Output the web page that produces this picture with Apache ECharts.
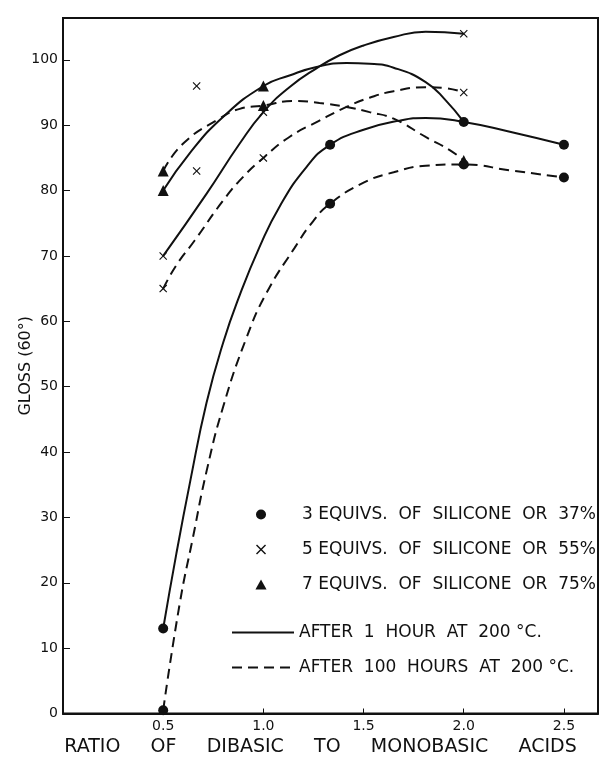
<!DOCTYPE html>
<html>
<head>
<meta charset="utf-8">
<script src="https://cdn.jsdelivr.net/npm/echarts@6/dist/echarts.min.js"></script>
<style>
  html, body { margin: 0; padding: 0; background: #fff; }
  #chart { width: 600px; height: 757px; }
</style>
</head>
<body>
<div id="chart"></div>
<script>
// measured points [ratio, gloss]
var pts3eq1h   = [[0.5, 13], [1.333, 87], [2.0, 90.5], [2.5, 87]];
var pts3eq100h = [[0.5, 0.5], [1.333, 78], [2.0, 84], [2.5, 82]];
var pts5eq1h   = [[0.5, 70], [1.0, 92], [2.0, 104]];
var pts5eq100h = [[0.5, 65], [1.0, 85], [2.0, 95]];
var pts5eqOther = [[0.667, 96], [0.667, 83]];
var pts7eq1h   = [[0.5, 80], [1.0, 96]];
var pts7eq100h = [[0.5, 83], [1.0, 93], [2.0, 84.6]];

// drawn curves
var curve3eq1h = [[0.5, 13], [0.566, 24.5], [0.636, 35.7], [0.716, 47.5], [0.8, 56.8], [0.882, 64], [0.98, 71.3], [1.08, 77.5], [1.215, 83.6], [1.333, 87], [1.5, 89.3], [1.68, 90.7], [1.81, 91.1], [2.0, 90.5], [2.23, 89.0], [2.5, 87]];
var curve3eq100h = [[0.5, 0.5], [0.583, 16.9], [0.649, 27], [0.716, 37], [0.8, 47], [0.916, 57.5], [1.015, 64.3], [1.155, 71.2], [1.248, 75.3], [1.333, 78], [1.5, 81.2], [1.65, 82.8], [1.81, 83.8], [2.0, 84], [2.23, 83.1], [2.5, 82]];
var curve5eq1h = [[0.5, 70], [0.716, 79.5], [0.882, 87.2], [1.0, 92], [1.13, 95.8], [1.265, 98.7], [1.38, 100.7], [1.5, 102.2], [1.65, 103.5], [1.81, 104.3], [2.0, 104]];
var curve5eq100h = [[0.5, 65], [0.566, 68.6], [0.658, 72.4], [0.8, 78.5], [0.899, 82.1], [1.0, 85], [1.13, 88.2], [1.28, 90.7], [1.415, 92.8], [1.53, 94.2], [1.65, 95.2], [1.81, 95.8], [1.9, 95.7], [2.0, 95]];
var curve7eq1h = [[0.5, 80], [0.632, 85.7], [0.8, 91.3], [1.0, 96], [1.13, 97.6], [1.265, 98.9], [1.415, 99.5], [1.53, 99.4], [1.65, 98.8], [1.81, 96.6], [1.91, 93.8], [2.0, 90.5]];
var curve7eq100h = [[0.5, 83], [0.6, 87.2], [0.78, 91], [0.882, 92.5], [1.0, 93], [1.15, 93.7], [1.28, 93.4], [1.415, 92.8], [1.53, 92], [1.65, 91], [1.81, 88.2], [1.93, 86.2], [2.0, 84.6]];

var name3 = '3 EQUIVS.  OF  SILICONE  OR  37%';
var name5 = '5 EQUIVS.  OF  SILICONE  OR  55%';
var name7 = '7 EQUIVS.  OF  SILICONE  OR  75%';
var name1h = 'AFTER  1  HOUR  AT  200 °C.';
var name100h = 'AFTER  100  HOURS  AT  200 °C.';

var ink = '#111';
var crossPath = 'path://M0,1 L1,0 L5,4 L9,0 L10,1 L6,5 L10,9 L9,10 L5,6 L1,10 L0,9 L4,5 Z';
var trianglePath = 'path://M5,0 L10,9 L0,9 Z';
var font = 'DejaVu Sans';

function curve(name, data, dashed) {
  return {
    name: name,
    type: 'line',
    data: data,
    smooth: true,
    symbol: 'none',
    silent: true,
    z: 2,
    lineStyle: { color: ink, width: 2, type: dashed ? [10, 6] : 'solid' },
    itemStyle: { color: ink }
  };
}

var chart = echarts.init(document.getElementById('chart'));
var option = {
  animation: false,
  backgroundColor: '#fff',
  textStyle: { fontFamily: font, color: ink },
  grid: {
    left: 63, right: 2, top: 18, bottom: 43.5,
    show: true, borderColor: ink, borderWidth: 2,
    containLabel: false, outerBoundsMode: 'none'
  },
  legend: [
    {
      orient: 'vertical', right: 4, top: 506, padding: 0,
      itemWidth: 72, itemHeight: 10, itemGap: 18,
      symbolKeepAspect: true,
      textStyle: { fontFamily: font, fontSize: 17, color: ink, lineHeight: 16 },
      data: [name3, name5, name7]
    },
    {
      orient: 'vertical', left: 231, top: 624, padding: 0,
      itemWidth: 62, itemHeight: 12, itemGap: 18,
      itemStyle: { opacity: 0 },
      textStyle: { fontFamily: font, fontSize: 17, color: ink, lineHeight: 16 },
      data: [name1h, name100h]
    }
  ],
  xAxis: {
    type: 'value', min: 0, max: 2.67, interval: 0.5,
    name: 'RATIO     OF     DIBASIC     TO     MONOBASIC     ACIDS',
    nameLocation: 'middle', nameGap: 24, nameMoveOverlap: false,
    nameTextStyle: { fontFamily: font, fontSize: 19, color: ink, verticalAlign: 'top', padding: [0, 20, 0, 0] },
    axisLine: { lineStyle: { color: ink, width: 2 } },
    axisTick: { inside: true, length: 5, lineStyle: { color: ink } },
    splitLine: { show: false },
    axisLabel: {
      color: ink, fontFamily: font, fontSize: 14, margin: 6,
      showMinLabel: false, showMaxLabel: false,
      formatter: function (v) {
        return (v > 0.01 && v < 2.6) ? v.toFixed(1) : '';
      }
    }
  },
  yAxis: {
    type: 'value', min: 0, max: 106.4, interval: 10,
    name: 'GLOSS (60°)',
    nameLocation: 'middle', nameGap: 29, nameMoveOverlap: false,
    nameTextStyle: { fontFamily: font, fontSize: 16, color: ink },
    axisLine: { lineStyle: { color: ink, width: 2 } },
    axisTick: { inside: true, length: 7, lineStyle: { color: ink } },
    splitLine: { show: false },
    axisLabel: {
      color: ink, fontFamily: font, fontSize: 14, margin: 5,
      showMaxLabel: false,
      formatter: function (v) {
        return v <= 100 ? String(v) : '';
      }
    }
  },
  series: [
    curve(name1h, curve3eq1h, false),
    curve(name1h, curve5eq1h, false),
    curve(name1h, curve7eq1h, false),
    curve(name100h, curve3eq100h, true),
    curve(name100h, curve5eq100h, true),
    curve(name100h, curve7eq100h, true),
    {
      name: name3, type: 'scatter', symbol: 'circle', symbolSize: 10, z: 5,
      itemStyle: { color: ink, opacity: 1 },
      data: pts3eq1h.concat(pts3eq100h)
    },
    {
      name: name5, type: 'scatter', symbol: crossPath, symbolSize: 8, z: 5,
      itemStyle: { color: ink, opacity: 1 },
      data: pts5eq1h.concat(pts5eq100h, pts5eqOther)
    },
    {
      name: name7, type: 'scatter', symbol: trianglePath, symbolSize: 11, z: 5,
      itemStyle: { color: ink, opacity: 1 },
      data: pts7eq1h.concat(pts7eq100h)
    }
  ]
};
chart.setOption(option);
</script>
</body>
</html>
